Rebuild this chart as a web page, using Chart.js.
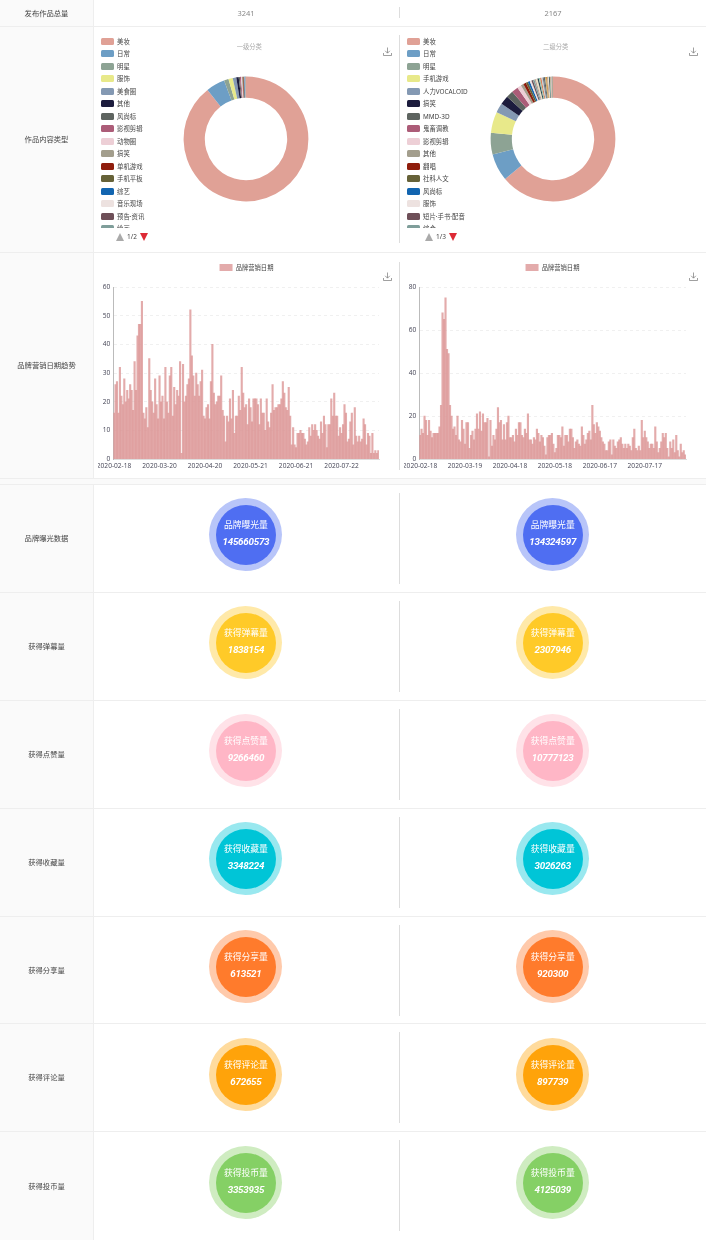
<!DOCTYPE html>
<html><head><meta charset="utf-8">
<script src="https://cdn.jsdelivr.net/npm/chart.js@4"></script>
<style>
html,body{margin:0;padding:0;background:#fff;width:706px;height:1240px;overflow:hidden;font-family:"Noto Sans","Noto Sans CJK SC",sans-serif}
#page{position:relative;width:706px;height:1240px;filter:blur(.3px)}
.abs{position:absolute}
.side{position:absolute;left:0;width:93px;background:#fafafa;border-right:1px solid #eee}
.hl{position:absolute;left:0;width:706px;height:1px;background:#eee}
.vl{position:absolute;width:1px;background:#ddd;left:399px}
.lab{position:absolute;left:0;width:93px;text-align:center;font-size:7.3px;color:#444;line-height:12px;white-space:nowrap}
.val{position:absolute;width:80px;text-align:center;font-size:7.5px;color:#888;line-height:12px}
.ttl{position:absolute;width:80px;text-align:center;font-size:6.3px;color:#aaa;line-height:10px}
.leg{position:absolute;top:35px;width:90px;height:193px;overflow:hidden}
.li{height:12.5px;display:flex;align-items:center;font-size:6.4px;color:#444;white-space:nowrap}
.sw{width:13px;height:7px;border-radius:1.5px;margin-right:3px;flex:none}
.pg{position:absolute;top:231px;font-size:6.5px;color:#444;line-height:12px;display:flex;align-items:center}
.up{width:0;height:0;border-left:4.5px solid transparent;border-right:4.5px solid transparent;border-bottom:8px solid #aaa}
.dn{width:0;height:0;border-left:4px solid transparent;border-right:4px solid transparent;border-top:8px solid #dd2a35}
.o{position:absolute;width:73px;height:73px;border-radius:50%}
.i{position:absolute;left:6.5px;top:6.5px;width:60px;height:60px;border-radius:50%;color:#fff;text-align:center}
.i .a{position:absolute;left:0;right:0;top:14.5px;font-size:8.8px;line-height:13px}
.i .b{position:absolute;left:-5px;right:-5px;top:30px;font-size:9.8px;letter-spacing:-.25px;line-height:13px;font-style:italic;font-weight:700;font-family:Roboto,sans-serif}
.ic{position:absolute;width:9px;height:9px}
.box{position:absolute}
</style></head><body><div id="page"></div>
<script>
const rowTitles=["发布作品总量","作品内容类型","品牌营销日期趋势","品牌曝光数据","获得弹幕量","获得点赞量","获得收藏量","获得分享量","获得评论量","获得投币量"];
const totals=["3241","2167"];
const donutTitles=["一级分类","二级分类"];
const pagers=["1/2","1/3"];
const palette=["#e0a196","#6d9ec5","#8da394","#e8e98a","#8499b3","#1c1c3d","#5e6460","#ac5c78","#edcfd6","#a39e8d","#8f1d0c","#666238","#1265b0","#ede2e0","#6e4f58","#7f9e9a"];
const palette2=["#d9825b","#c4ccd3","#6e7074","#546570","#c9ab6e","#ca8622","#bda29a","#e8e0c0","#2f4554","#91c7ae"];
const labelsA=["美妆","日常","明星","服饰","美食圈","其他","风尚标","影视剪辑","动物圈","搞笑","单机游戏","手机平板","综艺","音乐现场","预告·资讯","绘画","健身","翻唱","科学科普","汽车"];
const valuesA=[2898,158,38,36,30,20,10,9,8,7,6,5,5,4,3,1,1,1,1,0];
const labelsB=["美妆","日常","明星","手机游戏","人力VOCALOID","搞笑","MMD-3D","鬼畜调教","影视剪辑","其他","翻唱","社科人文","风尚标","服饰","短片·手书·配音","综合","单机游戏","美食圈","动物圈","综艺","音乐现场","绘画","健身","科学科普","汽车","舞蹈","宅舞","电子竞技","数码","野生技术协会","娱乐","连载动画","预告·资讯","同人","演奏"];
const valuesB=[1395,154,123,119,54,50,40,37,23,15,16,12,11,10,9,9,8,9,8,7,8,7,6,7,6,5,6,5,5,4,4,3,3,2,2];
const barLabel="品牌营销日期";
const startDate="2020-02-18";
const barsA=[16,26,27,16,32,22,19,28,20,24,21,26,24,17,34,24,43,47,47,55,16,14,18,11,35,24,20,16,28,19,14,29,20,22,14,32,20,16,29,32,15,25,19,24,22,34,2,33,20,22,26,28,52,36,29,22,30,26,22,27,31,15,14,18,19,14,27,40,23,19,20,22,22,29,17,15,6,15,13,21,14,24,9,15,15,22,17,32,23,18,19,12,21,18,13,21,21,21,19,12,21,16,16,10,21,13,11,16,26,17,18,18,19,19,21,27,23,18,17,25,15,5,11,5,4,9,9,10,9,9,7,5,6,11,8,12,10,12,10,8,7,13,9,15,12,4,12,12,21,15,23,15,15,8,11,9,12,19,16,6,7,13,16,5,18,8,6,8,6,7,14,12,5,9,8,2,9,2,3,2,3];
const barsB=[11,14,12,20,18,11,18,13,10,12,12,12,12,15,25,68,65,75,51,49,25,20,14,15,11,20,9,8,18,14,7,17,17,5,11,13,9,14,21,14,22,13,21,17,17,19,1,18,6,11,9,14,24,17,18,9,16,9,17,20,10,10,11,8,14,11,17,17,11,10,14,12,21,9,9,7,10,9,14,12,8,11,10,6,2,10,11,11,12,7,3,5,11,11,10,15,6,11,11,8,14,14,10,5,8,9,7,6,15,11,7,9,12,13,9,25,16,12,17,15,13,10,8,7,4,4,8,9,2,9,6,5,8,9,10,7,5,7,5,7,6,4,10,14,5,4,6,4,18,10,13,10,8,5,7,7,5,15,8,3,5,8,12,10,12,5,1,8,5,9,3,11,4,1,7,3,4,2];
const tickStepA=31, tickStepB=30;
const yMaxA=60, yStepA=10, yMaxB=80, yStepB=20;
const metricNames=["品牌曝光量","获得弹幕量","获得点赞量","获得收藏量","获得分享量","获得评论量","获得投币量"];
const metricLeft=["145660573","1838154","9266460","3348224","613521","672655","3353935"];
const metricRight=["134324597","2307946","10777123","3026263","920300","897739","4125039"];
const metricColors=["#4f6ef2","#ffca28","#ffb6c6","#00c5d7","#ff7b2c","#ffa30a","#85d065"];
const metricRings=["#b8c5f9","#ffe9a9","#ffe2e8","#99e8ef","#ffcaab","#ffdb9d","#cfecc1"];

const page=document.getElementById('page');
function el(cls,css,txt){const d=document.createElement('div');d.className=cls;Object.assign(d.style,css);if(txt!==undefined)d.textContent=txt;page.appendChild(d);return d;}
const px=n=>n+'px';
const rows=[[0,26],[27,225],[253,225],[485,107],[593,107],[701,107],[809,107],[917,106],[1024,107],[1132,108]];
rows.forEach((r,i)=>{
  el('side',{top:px(r[0]),height:px(r[1])});
  el('hl',{top:px(r[0]+r[1])});
  el('lab',{top:px(r[0]+r[1]/2-6.5)},rowTitles[i]);
});
el('abs',{left:0,top:'479px',width:'706px',height:'5px',background:'#fafafa'});
el('hl',{top:'484px'});
el('vl',{top:'7px',height:'11px'});
el('vl',{top:'35px',height:'208px'});
el('vl',{top:'262px',height:'208px'});
[493,601,709,817,925,1032,1140].forEach(y=>el('vl',{top:px(y),height:'91px'}));
el('val',{left:'206px',top:'7px'},totals[0]);
el('val',{left:'513px',top:'7px'},totals[1]);
const cx=[246.3,552.7];
const icon='<svg width="9" height="9" viewBox="0 0 9 9" fill="none" stroke="#777" stroke-width=".7"><path d="M4.5 .5V6M2.2 3.8 4.5 6.2 6.8 3.8M.5 6V8.5H8.5V6"/></svg>';
[[labelsA,valuesA],[labelsB,valuesB]].forEach((d,k)=>{
  el('ttl',{left:px(cx[k]-37),top:'41.5px'},donutTitles[k]);
  const leg=el('leg',{left:px(k?407:101)});
  d[0].slice(0,16).forEach((t,i)=>{
    const li=document.createElement('div');li.className='li';
    const s=document.createElement('span');s.className='sw';s.style.background=palette[i];
    const x=document.createElement('span');x.textContent=t;
    li.append(s,x);leg.appendChild(li);
  });
  const pg=el('pg',{left:px(k?425:116)});
  pg.innerHTML='<span class="up"></span><span style="margin:0 3px">'+pagers[k]+'</span><span class="dn"></span>';
  const box=el('box',{left:px(cx[k]-65),top:px(139.3-65),width:'130px',height:'130px'});
  const c=document.createElement('canvas');box.appendChild(c);
  new Chart(c,{type:'doughnut',data:{labels:d[0],datasets:[{data:d[1],backgroundColor:d[1].map((_,i)=>i<palette.length?palette[i]:palette2[i%palette2.length]),borderWidth:0}]},
    options:{responsive:true,maintainAspectRatio:false,animation:false,radius:62.4,cutout:'66%',plugins:{legend:{display:false},tooltip:{enabled:false}}}});
  const ic=el('ic',{left:px(k?688.7:382.5),top:'38.5px'});ic.innerHTML=icon;
  const ic2=el('ic',{left:px(k?688.7:382.5),top:'264px'});ic2.innerHTML=icon;
});
function dateLabels(n){const out=[];const d=new Date(startDate+'T00:00:00Z');for(let i=0;i<n;i++){out.push(new Date(d.getTime()+i*864e5).toISOString().slice(0,10));}return out;}
const legendGap={id:'legendGap',beforeInit(chart){const l=chart.legend;const f=l.fit;l.fit=function(){f.call(this);this.height+=6;};}};
function bar(left,values,step,ymax,ystep,rightW){
  const box=el('box',{left:px(left),top:'246px',width:'306px',height:'227px',overflow:'hidden'});
  const inner=document.createElement('div');
  Object.assign(inner.style,{position:'absolute',left:'-8px',top:0,width:'313px',height:'227px'});
  box.appendChild(inner);
  const c=document.createElement('canvas');inner.appendChild(c);
  new Chart(c,{type:'bar',plugins:[legendGap],data:{labels:dateLabels(values.length),datasets:[{label:barLabel,data:values,backgroundColor:'rgba(220,150,150,.8)',borderWidth:0,barPercentage:1,categoryPercentage:1}]},
  options:{responsive:true,maintainAspectRatio:false,animation:false,
    plugins:{tooltip:{enabled:false},legend:{display:true,position:'top',labels:{boxWidth:13,boxHeight:7,padding:18,color:'#444',font:{size:6.3,family:'"Noto Sans CJK SC"'}}}},
    scales:{
      x:{grid:{display:false,drawTicks:false},border:{color:'#ddd'},ticks:{autoSkip:false,maxRotation:0,minRotation:0,padding:3,color:'#445',font:{size:6.6,family:'"Open Sans"'},callback(v,i){return i%step===0?this.getLabelForValue(v):'';}}},
      y:{min:0,max:ymax,afterFit(s){s.width=23.3;},grid:{color:'#f0f0f0',drawTicks:false},border:{color:'#bbb',dash:[3,3]},ticks:{stepSize:ystep,padding:3,color:'#445',font:{size:6.6,family:'"Open Sans"'}}},
      y2:{position:'right',display:true,min:0,max:1,afterFit(s){s.width=rightW;},grid:{display:false,drawTicks:false},border:{display:false},ticks:{display:false}}
    }}});
}
bar(98,barsA,tickStepA,yMaxA,yStepA,24);
bar(404,barsB,tickStepB,yMaxB,yStepB,23);
metricNames.forEach((n,i)=>{
  const y=534.8+108*i;
  [[245.9,metricLeft],[552.7,metricRight]].forEach(([x,arr])=>{
    const o=el('o',{left:px(x-36.5),top:px(y-36.5),background:metricRings[i]});
    const inner=document.createElement('div');inner.className='i';inner.style.background=metricColors[i];
    const a=document.createElement('div');a.className='a';a.textContent=n;
    const b=document.createElement('div');b.className='b';b.textContent=arr[i];
    inner.append(a,b);o.appendChild(inner);
  });
});
</script></body></html>
